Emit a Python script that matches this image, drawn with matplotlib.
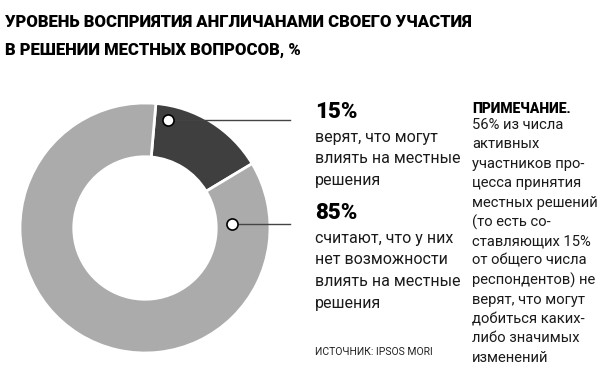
import numpy as np
import matplotlib.pyplot as plt

plt.rcParams['font.family'] = ['Roboto', 'DejaVu Sans']

title_lines = ['УРОВЕНЬ ВОСПРИЯТИЯ АНГЛИЧАНАМИ СВОЕГО УЧАСТИЯ',
               'В РЕШЕНИИ МЕСТНЫХ ВОПРОСОВ, %']
shares = [15, 85]
share_labels = ['15%', '85%']
share_texts = [['верят, что могут', 'влиять на местные', 'решения'],
               ['считают, что у них', 'нет возможности', 'влиять на местные', 'решения']]
colors = ['#3f3f3f', '#ababab']
note_title = 'ПРИМЕЧАНИЕ.'
note_lines = ['56% из числа', 'активных', 'участников про-', 'цесса принятия',
              'местных решений', '(то есть со-', 'ставляющих 15%',
              'от общего числа', 'респондентов) не', 'верят, что могут',
              'добиться каких-', 'либо значимых', 'изменений']
source = 'ИСТОЧНИК: IPSOS MORI'

W, H = 600, 389
fig = plt.figure(figsize=(6, 3.89), dpi=100)

# donut: centre (145, 228) px, outer radius 125 px
cx, cy, R = 145, 228, 125
ax = fig.add_axes([(cx - R) / W, (H - cy - R) / H, 2 * R / W, 2 * R / H])
wedges, _ = ax.pie(shares, colors=colors, startangle=85, counterclock=False,
                   radius=1, wedgeprops=dict(width=0.43, edgecolor='white', linewidth=2))
ax.set_xlim(-1, 1)
ax.set_ylim(-1, 1)
ax.set_aspect('equal')
ax.axis('off')

# marker dots and leader lines
marker_pos = [(78, 0.88), (2.5, 0.70)]
x_end = (290 - cx) / R
for (ang, r) in marker_pos:
    mx, my = r * np.cos(np.radians(ang)), r * np.sin(np.radians(ang))
    ax.plot([mx, x_end], [my, my], color='#444444', lw=1, clip_on=False, zorder=3)
    ax.plot(mx, my, 'o', ms=8, mfc='white', mec='black', mew=1.2, clip_on=False, zorder=4)

# title
fig.text(5 / W, 1 - 22 / H, title_lines[0], fontsize=12, fontweight='black', va='center')
fig.text(5 / W, 1 - 50 / H, title_lines[1], fontsize=12, fontweight='black', va='center')

# share labels
tops = [112, 213]
for lab, lines, t in zip(share_labels, share_texts, tops):
    fig.text(315 / W, 1 - t / H, lab, fontsize=16, fontweight='black', va='center')
    for i, line in enumerate(lines):
        fig.text(315 / W, 1 - (t + 25 + i * 21.7) / H, line, fontsize=11.5,
                 va='center', color='#1a1a1a')

fig.text(315 / W, 1 - 352 / H, source, fontsize=7.5, va='center', color='#222222')

# note column
fig.text(472 / W, 1 - 109 / H, note_title, fontsize=10, fontweight='black', va='center')
for i, line in enumerate(note_lines):
    fig.text(472 / W, 1 - (125 + i * 19.4) / H, line, fontsize=10.6, va='center',
             color='#1a1a1a')

fig.savefig('out.png', dpi=100)
